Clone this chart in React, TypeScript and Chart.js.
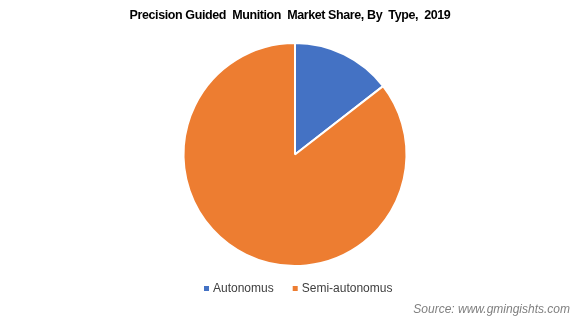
import React, { useEffect, useRef } from "react";
import { Chart, registerables } from "chart.js";

Chart.register(...registerables);

const title = "Precision Guided  Munition  Market Share, By  Type,  2019";
const categories = ["Autonomus", "Semi-autonomus"];
const shares = [14.5, 85.5];
const colors = ["#4472C4", "#ED7D31"];
const source = "Source: www.gmingishts.com";

const textPlugin = {
  id: "textPlugin",
  afterDraw(chart: any) {
    const ctx = chart.ctx;
    ctx.save();
    ctx.fillStyle = "#000000";
    ctx.font = "bold 12.5px 'Liberation Sans', Arial, sans-serif";
    (ctx as any).letterSpacing = "-0.4px";
    ctx.textAlign = "center";
    ctx.textBaseline = "middle";
    ctx.fillText(title, 290, 16);
    (ctx as any).letterSpacing = "0px";

    ctx.font = "12px 'Liberation Sans', Arial, sans-serif";
    ctx.textAlign = "left";
    const labels = chart.data.labels as string[];
    const bg = chart.data.datasets[0].backgroundColor as string[];
    let x = 204;
    const y = 289;
    labels.forEach((l, i) => {
      ctx.fillStyle = bg[i];
      ctx.fillRect(x, y - 3, 5, 5);
      ctx.fillStyle = "#404040";
      ctx.fillText(l, x + 9, y);
      x += 9 + ctx.measureText(l).width + 19;
    });

    ctx.font = "italic 12px 'Liberation Sans', Arial, sans-serif";
    ctx.fillStyle = "#7F7F7F";
    ctx.textAlign = "right";
    ctx.fillText(source, 570, 310);
    ctx.restore();
  },
};

export default function App() {
  const ref = useRef<HTMLCanvasElement>(null);
  useEffect(() => {
    if (!ref.current) return;
    const chart = new Chart(ref.current, {
      type: "pie",
      data: {
        labels: categories,
        datasets: [
          {
            data: shares,
            backgroundColor: colors,
            borderColor: "#ffffff",
            borderWidth: 2,
          },
        ],
      },
      options: {
        animation: false,
        responsive: false,
        maintainAspectRatio: false,
        layout: { padding: { top: 42, bottom: 61, left: 9, right: 0 } },
        plugins: {
          legend: { display: false },
          title: { display: false },
          tooltip: { enabled: false },
        },
      },
      plugins: [textPlugin],
    });
    return () => chart.destroy();
  }, []);
  return (
    <div style={{ position: "absolute", left: 0, top: 0, width: 581, height: 328, background: "#fff" }}>
      <canvas ref={ref} width={581} height={328} />
    </div>
  );
}
